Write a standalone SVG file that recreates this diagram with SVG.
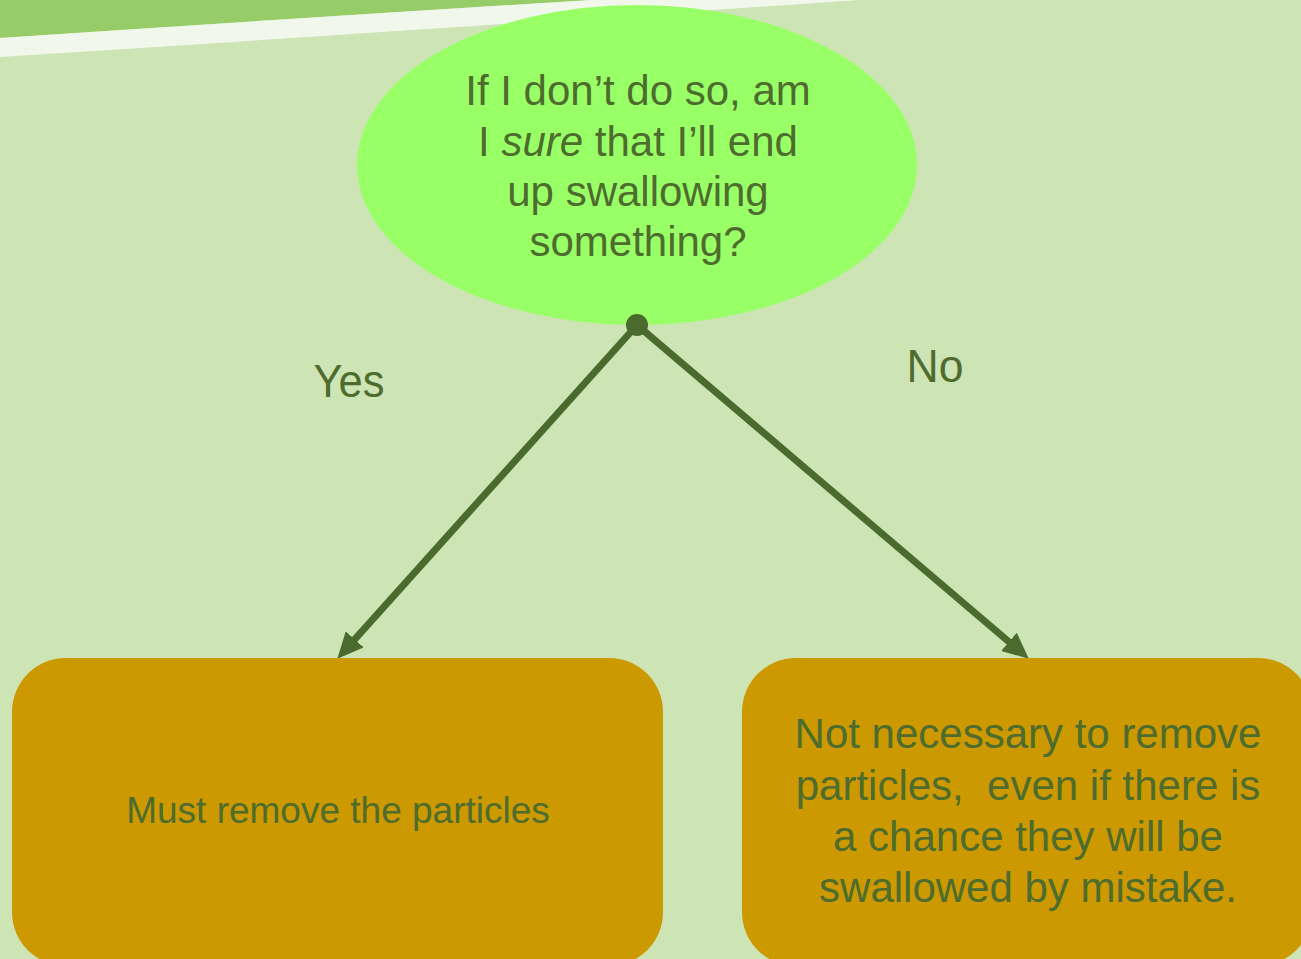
<svg xmlns="http://www.w3.org/2000/svg" width="1301" height="959" viewBox="0 0 1301 959">
  <style>
    .t { font-family: "Liberation Sans", Arial, sans-serif; fill: #4d6c2d; text-anchor: middle; }
    .box { fill: #cc9900; }
    .conn { stroke: #4b6a2e; stroke-width: 7; fill: none; }
  </style>
  <defs>
    <marker id="arrow" markerUnits="userSpaceOnUse" markerWidth="28" markerHeight="24" refX="10" refY="12" orient="auto" viewBox="0 0 28 24">
      <path d="M0,0 L26,12 L0,24 Z" fill="#4b6a2e"/>
    </marker>
  </defs>
  <rect x="0" y="0" width="1301" height="959" fill="#cde4b5"/>
  <path d="M0,0 H592 Q300,18 0,38 Z" fill="#97cd68"/>
  <path d="M0,38 Q300,18 592,0 H860 Q420,30 0,57 Z" fill="#f2f7ec"/>

  <g id="question">
    <ellipse cx="637" cy="165" rx="280" ry="160" fill="#99ff66"/>
    <text class="t" font-size="42"><tspan x="638" y="105">If I don’t do so, am</tspan><tspan x="638" y="156">I <tspan font-style="italic">sure</tspan> that I’ll end</tspan><tspan x="638" y="206">up swallowing</tspan><tspan x="638" y="256">something?</tspan></text>
  </g>

  <g id="connectors">
    <line class="conn" x1="637" y1="325" x2="348" y2="646.8" marker-end="url(#arrow)"/>
    <line class="conn" x1="637" y1="325" x2="1016.6" y2="648.3" marker-end="url(#arrow)"/>
    <circle cx="637" cy="325" r="11" fill="#4b6a2e"/>
    <text class="t" font-size="47" x="349" y="397" textLength="71" lengthAdjust="spacingAndGlyphs">Yes</text>
    <text class="t" font-size="47" x="935" y="382" textLength="57" lengthAdjust="spacingAndGlyphs">No</text>
  </g>

  <g id="yes-box">
    <rect class="box" x="12" y="658" width="651" height="308" rx="54"/>
    <text class="t" font-size="37" x="338" y="823">Must remove the particles</text>
  </g>

  <g id="no-box">
    <rect class="box" x="742" y="658" width="570" height="308" rx="54"/>
    <text class="t" font-size="42"><tspan x="1028" y="748">Not necessary to remove</tspan><tspan x="1028" y="800" xml:space="preserve">particles,  even if there is</tspan><tspan x="1028" y="851">a chance they will be</tspan><tspan x="1028" y="902">swallowed by mistake.</tspan></text>
  </g>
</svg>
